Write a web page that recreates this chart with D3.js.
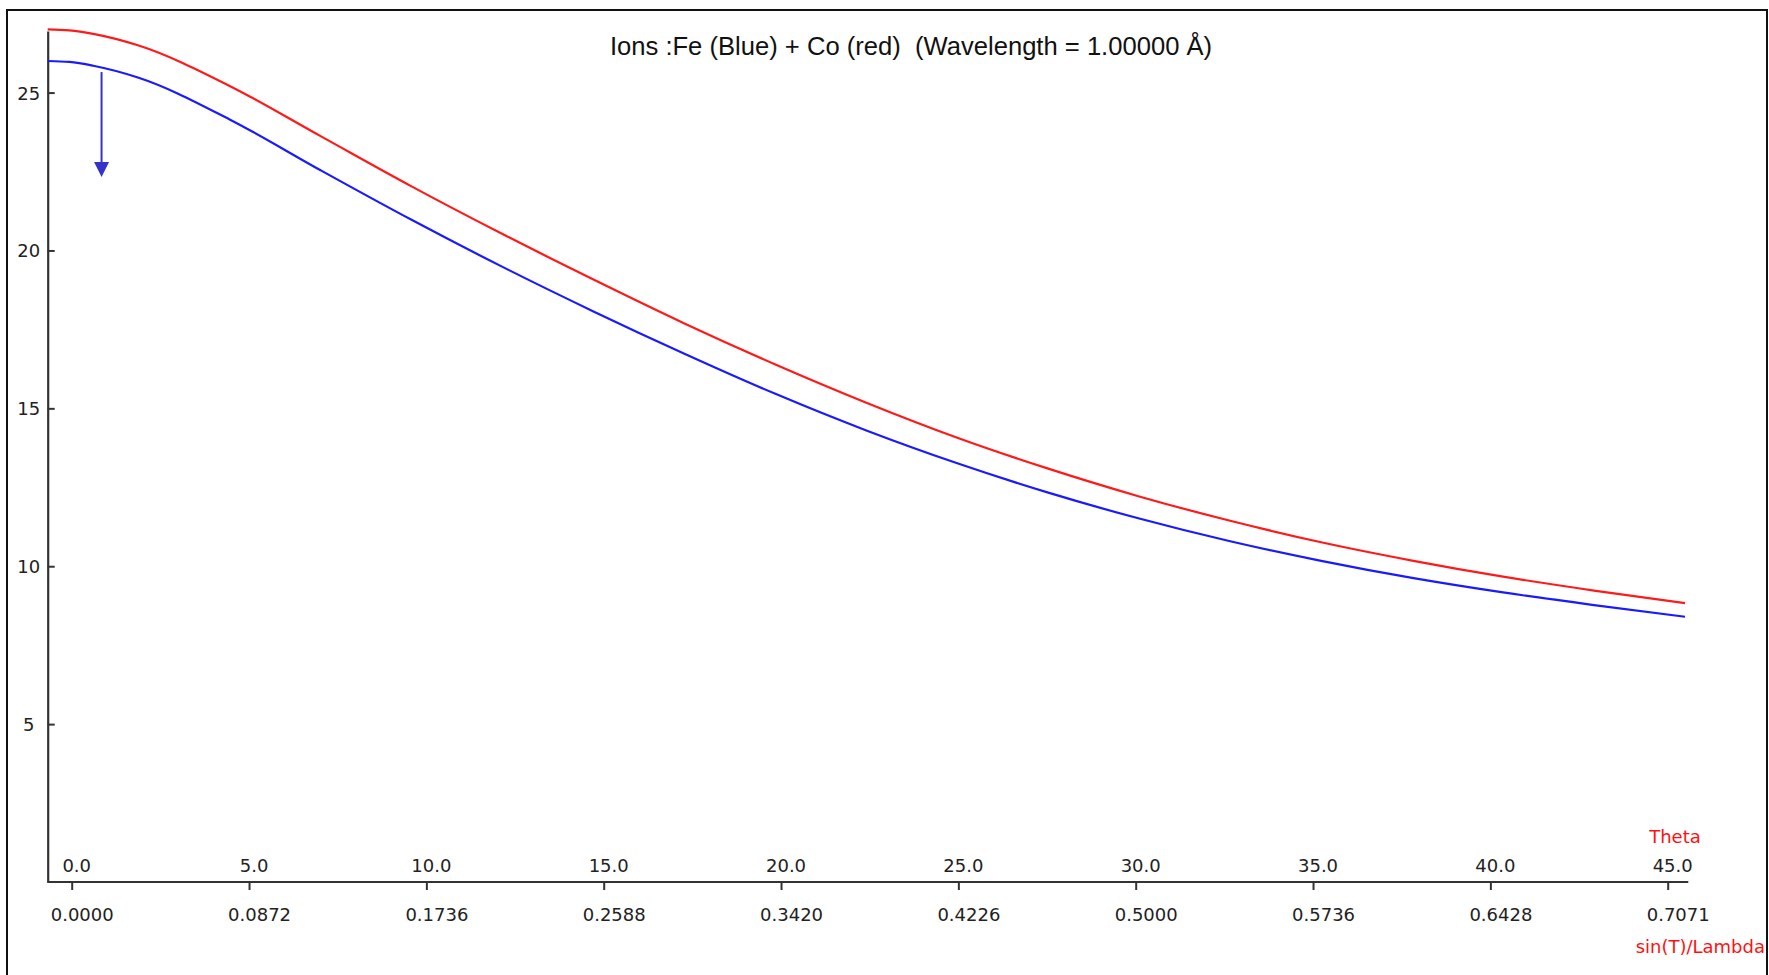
<!DOCTYPE html>
<html>
<head>
<meta charset="utf-8">
<script src="https://cdn.jsdelivr.net/npm/d3@7"></script>
<style>
  html, body { margin: 0; padding: 0; background: #fff; }
  svg { display: block; }
</style>
</head>
<body>
<svg id="chart" width="1769" height="975"></svg>
<script>
// Atomic scattering factors f0 versus Bragg angle (wavelength 1.00000 Å)
const thetaDeg = [0, 0.6, 1.25, 2.5, 5, 7.5, 10, 12.5, 15, 17.5, 20, 22.5, 25, 27.5, 30, 32.5, 35, 37.5, 40, 42.5, 45];
const feF = [26.00, 25.97, 25.85, 25.47, 24.15, 22.54, 20.97, 19.48, 18.07, 16.73, 15.46, 14.30, 13.26, 12.33, 11.51, 10.79, 10.17, 9.63, 9.17, 8.77, 8.40];
const coF = [27.00, 26.97, 26.86, 26.49, 25.21, 23.62, 22.03, 20.52, 19.08, 17.69, 16.39, 15.18, 14.07, 13.09, 12.21, 11.44, 10.76, 10.18, 9.67, 9.23, 8.83];

// Axis ticks
const thetaTicks = [0, 5, 10, 15, 20, 25, 30, 35, 40, 45];
const thetaLabels = ["0.0", "5.0", "10.0", "15.0", "20.0", "25.0", "30.0", "35.0", "40.0", "45.0"];
const sinLabels = ["0.0000", "0.0872", "0.1736", "0.2588", "0.3420", "0.4226", "0.5000", "0.5736", "0.6428", "0.7071"];
const yTicks = [5, 10, 15, 20, 25];

// Cursor marker (angle, top value, tip value)
const cursorTheta = 1.48;
const cursorTop = 25.65;
const cursorTip = 22.33;

const titleText = "Ions :Fe (Blue) + Co (red)  (Wavelength = 1.00000 Å)";

const svg = d3.select("#chart");
const tickFont = "'DejaVu Sans', Verdana, sans-serif";
const textColor = "#222";
const axisColor = "#333";

// Scales
const yScale = d3.scaleLinear().domain([0, 26.95]).range([882, 31]);
const curveX = d3.scaleLinear().domain([0, 45]).range([47.7, 1685]);
const tickX = d3.scaleLinear().domain([0, 45]).range([71.7, 1667.7]);

// Outer frame
svg.append("rect")
  .attr("x", 7).attr("y", 10)
  .attr("width", 1760).attr("height", 1000)
  .attr("fill", "none").attr("stroke", "#111").attr("stroke-width", 2);

// Title (keeps its double space)
svg.append("text")
  .attr("x", 911).attr("y", 46).attr("dy", "0.35em")
  .attr("text-anchor", "middle")
  .attr("xml:space", "preserve")
  .style("white-space", "pre")
  .attr("font-family", "'Liberation Sans', Arial, sans-serif")
  .attr("font-size", 25.6)
  .attr("fill", "#111")
  .text(titleText);

// Y axis: ticks pointing inward, labels centred left of the axis
const yAxisG = svg.append("g")
  .attr("transform", "translate(47.7,0)")
  .call(d3.axisLeft(yScale).tickValues(yTicks).tickSize(-7).tickSizeOuter(0).tickFormat(d3.format("d")));
yAxisG.select(".domain").attr("stroke", axisColor).attr("stroke-width", 2.2);
yAxisG.selectAll(".tick line").attr("stroke", axisColor).attr("stroke-width", 2);
yAxisG.selectAll(".tick text")
  .attr("x", -19).attr("dy", "0.36em")
  .attr("text-anchor", "middle")
  .attr("font-family", tickFont).attr("font-size", 18).attr("fill", textColor);

// X axis line
svg.append("line")
  .attr("x1", 47.3).attr("x2", 1688.3)
  .attr("y1", yScale(0)).attr("y2", yScale(0))
  .attr("stroke", axisColor).attr("stroke-width", 2.2);

// X axis ticks with sin(T)/Lambda labels below
const xAxisG = svg.append("g")
  .attr("transform", `translate(0,${yScale(0)})`)
  .call(d3.axisBottom(tickX).tickValues(thetaTicks).tickSize(8).tickSizeOuter(0)
    .tickFormat((d, i) => sinLabels[i]));
xAxisG.select(".domain").remove();
xAxisG.selectAll(".tick line").attr("stroke", axisColor).attr("stroke-width", 2);
xAxisG.selectAll(".tick text")
  .attr("x", 10).attr("y", 33).attr("dy", "0.36em")
  .attr("font-family", tickFont).attr("font-size", 18).attr("fill", textColor);

// Theta labels above the axis
svg.append("g").selectAll("text")
  .data(thetaTicks)
  .join("text")
  .attr("x", d => tickX(d) + 5)
  .attr("y", yScale(0) - 16.5)
  .attr("dy", "0.36em")
  .attr("text-anchor", "middle")
  .attr("font-family", tickFont).attr("font-size", 18).attr("fill", textColor)
  .text((d, i) => thetaLabels[i]);

// Axis captions
svg.append("text")
  .attr("x", 1675).attr("y", 837).attr("dy", "0.36em")
  .attr("text-anchor", "middle")
  .attr("font-family", tickFont).attr("font-size", 18).attr("fill", "#ff1010")
  .text("Theta");
svg.append("text")
  .attr("x", 1765).attr("y", 947).attr("dy", "0.36em")
  .attr("text-anchor", "end")
  .attr("font-family", tickFont).attr("font-size", 18).attr("fill", "#ff1010")
  .text("sin(T)/Lambda");

// Curves
const line = d3.line()
  .x(d => curveX(d[0]))
  .y(d => yScale(d[1]))
  .curve(d3.curveMonotoneX);

svg.append("path")
  .datum(thetaDeg.map((t, i) => [t, coF[i]]))
  .attr("d", line)
  .attr("fill", "none").attr("stroke", "#ff1a1a").attr("stroke-width", 2.2);

svg.append("path")
  .datum(thetaDeg.map((t, i) => [t, feF[i]]))
  .attr("d", line)
  .attr("fill", "none").attr("stroke", "#1a1aff").attr("stroke-width", 2.2);

// Cursor arrow
const ax = curveX(cursorTheta);
const yTop = yScale(cursorTop);
const yTip = yScale(cursorTip);
svg.append("line")
  .attr("x1", ax).attr("x2", ax)
  .attr("y1", yTop).attr("y2", yTip - 8)
  .attr("stroke", "#3333cc").attr("stroke-width", 2);
svg.append("path")
  .attr("d", `M${ax - 7.5},${yTip - 15} L${ax + 7.5},${yTip - 15} L${ax},${yTip} Z`)
  .attr("fill", "#3333cc");
</script>
</body>
</html>
